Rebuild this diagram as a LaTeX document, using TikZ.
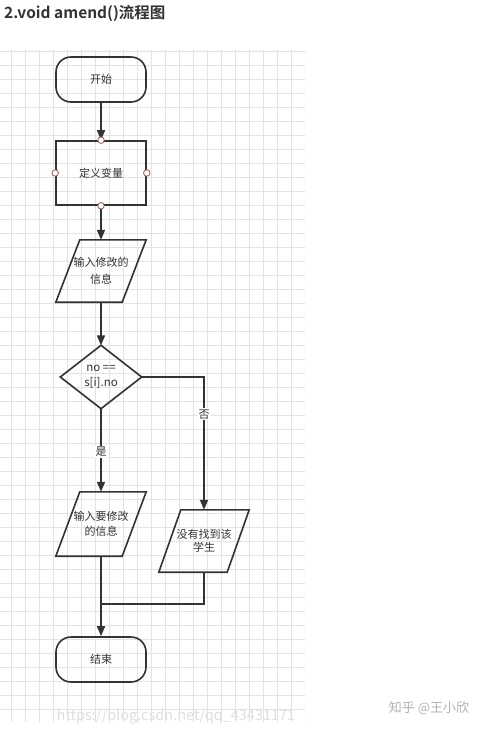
\documentclass[tikz,border=0pt]{standalone}
\usepackage{fontspec}
\setmainfont{Noto Sans CJK SC}[BoldFont={Noto Sans CJK SC Bold}]
\usetikzlibrary{arrows.meta,calc}
\definecolor{ink}{HTML}{333333}
\definecolor{gridc}{HTML}{E3E3E3}
\definecolor{ptc}{HTML}{A05A5A}
\newcommand\drawpara[2]{\draw[ln] (#1.south west) -- ($(#1.north west)+(#2,0)$) -- (#1.north east) -- ($(#1.south east)+(-#2,0)$) -- cycle;}
\begin{document}
\begin{tikzpicture}[x=1pt,y=-1pt,
  ln/.style={draw=ink, line width=1.6pt},
  arr/.style={ln, -{Triangle[length=10pt,width=8pt]}},
  txt/.style={text=ink, font=\fontsize{11}{15}\selectfont, align=center, inner sep=0pt},
  term/.style={txt, ln, rectangle, rounded corners=15pt, minimum width=90pt, minimum height=45pt},
  procbox/.style={txt, ln, rectangle, minimum width=90pt, minimum height=64pt},
  iobox/.style={txt, rectangle, minimum width=90pt, minimum height=62pt},
  decbox/.style={txt, rectangle, minimum width=81pt, minimum height=63pt},
  pt/.style={circle, draw=ptc, fill=white, line width=0.8pt, minimum size=6.5pt, inner sep=0pt},
  lbl/.style={txt, fill=white, inner sep=1.5pt}]
\useasboundingbox (0,0) rectangle (485,730);
\fill[white] (0,0) rectangle (485,730);
% grid
\begin{scope}
\clip (0,50) rectangle (305,722);
\foreach \gx in {11,25,...,305} \draw[gridc, line width=0.6pt] (\gx,50) -- (\gx,722);
\foreach \gy in {51,65,...,722} \draw[gridc, line width=0.6pt] (0,\gy) -- (305,\gy);
\end{scope}
% title
\node[anchor=west, text=ink, font=\fontsize{15.5}{18}\selectfont\bfseries, inner sep=0] (title) at (4,13) {2.void amend()流程图};
% nodes
\node[term] (start) at (101,79.5) {开始};
\node[procbox] (def) at (101,173) {定义变量};
\node[iobox, font=\fontsize{11}{16.5}\selectfont] (in1) at (101,271) {输入修改的\\信息};
\node[decbox, font=\fontsize{11.5}{15}\selectfont] (dec) at (101,377) {no ==\\s[i].no};
\node[iobox, minimum height=64pt] (in2) at (101,524) {输入要修改\\的信息};
\node[iobox, font=\fontsize{11}{13}\selectfont] (nf) at (204,541) {没有找到该\\学生};
\node[term] (end) at (101,659.5) {结束};
\drawpara{in1}{24}
\drawpara{in2}{24}
\drawpara{nf}{22}
\draw[ln] (dec.north) -- (dec.east) -- (dec.south) -- (dec.west) -- cycle;
\coordinate (jn) at (101,604);
% connectors
\draw[arr] (start.south) -- (def.north);
\draw[arr] (def.south) -- (in1.north);
\draw[arr] (in1.south) -- (dec.north);
\draw[arr] (dec.south) -- node[lbl, pos=0.52] {是} (in2.north);
\draw[arr] (dec.east) -| node[lbl, pos=0.64] {否} (nf.north);
\draw[arr] (in2.south) -- (end.north);
\draw[ln] (nf.south) |- (jn);
% connection points
\node[pt] (p1) at (def.north) {};
\node[pt] (p2) at (def.west) {};
\node[pt] (p3) at (def.east) {};
\node[pt] (p4) at (def.south) {};
% watermarks
\node[text=gray!25, font=\fontsize{14.5}{16}\selectfont, inner sep=0] (wm1) at (176,717) {https://blog.csdn.net/qq\_43431171};
\node[text=gray!60, font=\fontsize{13}{16}\selectfont, inner sep=0] (wm2) at (429,708) {知乎 @王小欣};
\end{tikzpicture}
\end{document}
